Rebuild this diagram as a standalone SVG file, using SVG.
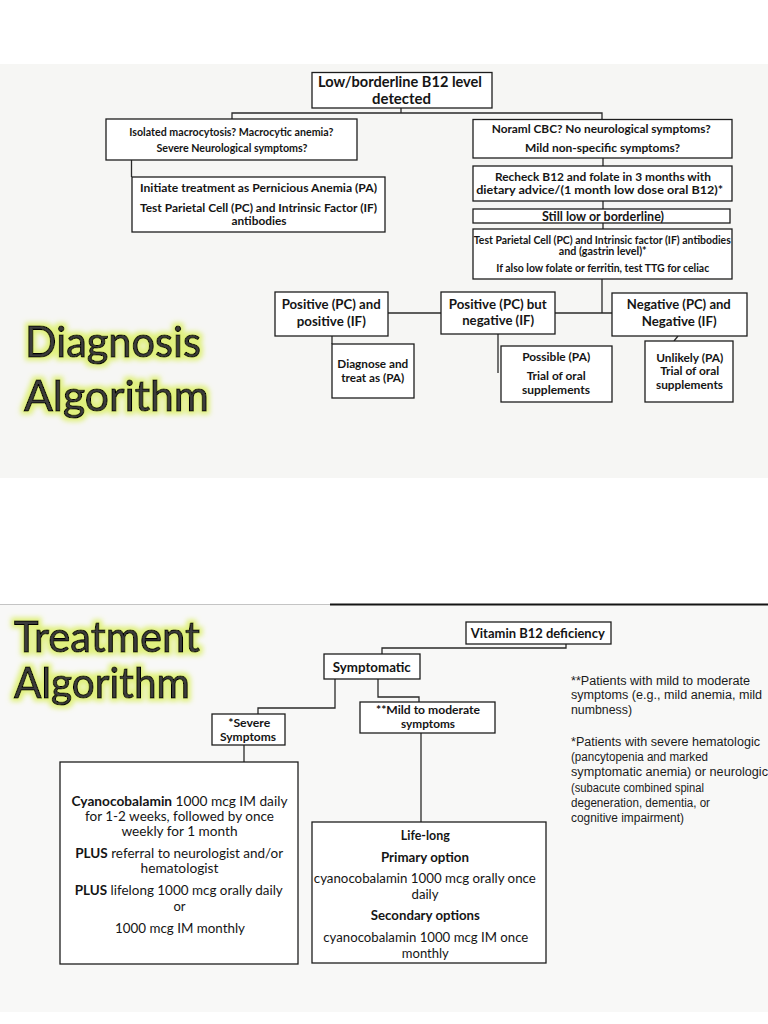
<svg xmlns="http://www.w3.org/2000/svg" width="768" height="1024" viewBox="0 0 768 1024">
<defs>
<style>
.box{fill:#ffffff;stroke:#1e1e1e;stroke-width:1.3}
.con{fill:none;stroke:#2a2a2a;stroke-width:1.3}
.b{font-family:Lato,"Liberation Sans",sans-serif;font-weight:bold;fill:#151515;text-anchor:middle}
.r{font-family:Lato,"Liberation Sans",sans-serif;font-weight:normal;fill:#151515;text-anchor:middle}
.n{font-family:"Liberation Sans",Arial,sans-serif;fill:#1a1a1a;font-size:12.5px}
.ttl{font-family:Lato,"Liberation Sans",sans-serif;font-size:42px;fill:#3a3a3a;stroke:#050505;stroke-width:1.1;filter:url(#glow)}
</style>
<filter id="glow" x="-15%" y="-40%" width="130%" height="180%">
<feMorphology in="SourceAlpha" operator="dilate" radius="3" result="d"/>
<feGaussianBlur in="d" stdDeviation="2.8" result="bl"/>
<feFlood flood-color="#dcef68" flood-opacity="0.85"/>
<feComposite in2="bl" operator="in" result="g"/>
<feMerge><feMergeNode in="g"/><feMergeNode in="SourceGraphic"/></feMerge>
</filter>
</defs>
<rect x="0" y="0" width="768" height="1024" fill="#ffffff"/>
<rect x="0" y="64" width="768" height="414" fill="#f6f6f4"/>
<rect x="0" y="604" width="768" height="408" fill="#f8f8f7"/>
<line x1="0" y1="604.5" x2="330" y2="604.5" stroke="#c4c4c4" stroke-width="1"/>
<line x1="330" y1="604.5" x2="768" y2="604.5" stroke="#151515" stroke-width="2"/>

<g id="title-diagnosis">
<text class="ttl" x="25" y="357" textLength="176" lengthAdjust="spacingAndGlyphs">Diagnosis</text>
<text class="ttl" x="24" y="411" textLength="185" lengthAdjust="spacingAndGlyphs">Algorithm</text>
</g>

<g id="title-treatment">
<text class="ttl" x="14" y="652" style="font-size:42px" textLength="186" lengthAdjust="spacingAndGlyphs">Treatment</text>
<text class="ttl" x="14" y="698" style="font-size:42px" textLength="176" lengthAdjust="spacingAndGlyphs">Algorithm</text>
</g>

<g id="connectors">
<polyline class="con" points="401,108 401,113"/>
<polyline class="con" points="232,119 232,113 602,113 602,120"/>
<polyline class="con" points="131.5,160 131.5,177"/>
<polyline class="con" points="603,158 603,166"/>
<polyline class="con" points="603,201 603,209"/>
<polyline class="con" points="603,223 603,229"/>
<polyline class="con" points="602,279 602,313"/>
<polyline class="con" points="555,313 612,313"/>
<polyline class="con" points="388,313 441,313"/>
<polyline class="con" points="332,336 332,344"/>
<polyline class="con" points="498,334 498,373"/>
<polyline class="con" points="678,336 674,341"/>
<polyline class="con" points="566,644 566,648 382,648 382,654"/>
<polyline class="con" points="335,679 335,708 258,708 258,714"/>
<polyline class="con" points="378,679 378,697 419,697 419,702"/>
<polyline class="con" points="244,745 244,762"/>
<polyline class="con" points="421,733 421,822"/>
</g>

<g id="n-low">
<rect class="box" x="312" y="72.5" width="180" height="35.5"/>
<text class="b" x="400" y="87" font-size="14.5" textLength="164" lengthAdjust="spacingAndGlyphs">Low/borderline B12 level</text>
<text class="b" x="401.5" y="104" font-size="14.5" textLength="59" lengthAdjust="spacingAndGlyphs">detected</text>
</g>

<g id="n-isolated">
<rect class="box" x="106" y="119" width="251" height="41"/>
<text class="b" x="231.3" y="136.3" font-size="10.5" textLength="204" lengthAdjust="spacingAndGlyphs">Isolated macrocytosis? Macrocytic anemia?</text>
<text class="b" x="232" y="151.6" font-size="10.5" textLength="151" lengthAdjust="spacingAndGlyphs">Severe Neurological symptoms?</text>
</g>

<g id="n-initiate">
<rect class="box" x="132" y="177" width="253" height="55"/>
<text class="b" x="258.5" y="192" font-size="12" textLength="237" lengthAdjust="spacingAndGlyphs">Initiate treatment as Pernicious Anemia (PA)</text>
<text class="b" x="258.5" y="212" font-size="12" textLength="237" lengthAdjust="spacingAndGlyphs">Test Parietal Cell (PC) and Intrinsic Factor (IF)</text>
<text class="b" x="259" y="225" font-size="12" textLength="55" lengthAdjust="spacingAndGlyphs">antibodies</text>
</g>

<g id="n-normal">
<rect class="box" x="473" y="119.5" width="259" height="38.5"/>
<text class="b" x="601.2" y="133" font-size="12" textLength="219" lengthAdjust="spacingAndGlyphs">Noraml CBC? No neurological  symptoms?</text>
<text class="b" x="602.5" y="152" font-size="12" textLength="155" lengthAdjust="spacingAndGlyphs">Mild non-specific symptoms?</text>
</g>

<g id="n-recheck">
<rect class="box" x="473" y="166" width="259" height="35"/>
<text class="b" x="603" y="180.7" font-size="12" textLength="216" lengthAdjust="spacingAndGlyphs">Recheck B12 and folate in 3 months with</text>
<text class="b" x="599.7" y="194" font-size="12" textLength="247" lengthAdjust="spacingAndGlyphs">dietary advice/(1 month low dose oral B12)*</text>
</g>

<g id="n-still">
<rect class="box" x="473" y="209" width="257" height="14"/>
<text class="b" x="603" y="220.7" font-size="12.5" textLength="122" lengthAdjust="spacingAndGlyphs">Still low or borderline)</text>
</g>

<g id="n-test">
<rect class="box" x="473" y="229" width="259" height="50"/>
<text class="b" x="602.3" y="243.6" font-size="10.5" textLength="257" lengthAdjust="spacingAndGlyphs">Test Parietal Cell (PC) and Intrinsic factor (IF) antibodies</text>
<text class="b" x="602.7" y="255.3" font-size="10.5" textLength="88" lengthAdjust="spacingAndGlyphs">and (gastrin level)*</text>
<text class="b" x="602.7" y="271.9" font-size="10.5" textLength="213" lengthAdjust="spacingAndGlyphs">If also low folate or ferritin, test TTG for celiac</text>
</g>

<g id="n-pospos">
<rect class="box" x="275" y="292" width="113" height="44"/>
<text class="b" x="331.2" y="309.3" font-size="12.5" textLength="99" lengthAdjust="spacingAndGlyphs">Positive (PC) and</text>
<text class="b" x="331.3" y="326" font-size="12.5" textLength="69" lengthAdjust="spacingAndGlyphs">positive (IF)</text>
</g>

<g id="n-posneg">
<rect class="box" x="441" y="292" width="114" height="42"/>
<text class="b" x="497.8" y="308.6" font-size="12.5" textLength="98" lengthAdjust="spacingAndGlyphs">Positive (PC) but</text>
<text class="b" x="498.2" y="325.3" font-size="12.5" textLength="72" lengthAdjust="spacingAndGlyphs">negative (IF)</text>
</g>

<g id="n-negneg">
<rect class="box" x="612" y="293" width="135" height="43"/>
<text class="b" x="678.8" y="309.3" font-size="12.5" textLength="104" lengthAdjust="spacingAndGlyphs">Negative (PC) and</text>
<text class="b" x="679.2" y="326" font-size="12.5" textLength="75" lengthAdjust="spacingAndGlyphs">Negative (IF)</text>
</g>

<g id="n-diagnose">
<rect class="box" x="332" y="344" width="82" height="54"/>
<text class="b" x="372.8" y="368" font-size="11" textLength="71" lengthAdjust="spacingAndGlyphs">Diagnose and</text>
<text class="b" x="372.7" y="382" font-size="11" textLength="63" lengthAdjust="spacingAndGlyphs">treat as (PA)</text>
</g>

<g id="n-possible">
<rect class="box" x="501" y="346" width="111" height="56"/>
<text class="b" x="556.2" y="361" font-size="11" textLength="68" lengthAdjust="spacingAndGlyphs">Possible (PA)</text>
<text class="b" x="556.2" y="380.4" font-size="11" textLength="59" lengthAdjust="spacingAndGlyphs">Trial of oral</text>
<text class="b" x="556" y="393.7" font-size="11" textLength="68" lengthAdjust="spacingAndGlyphs">supplements</text>
</g>

<g id="n-unlikely">
<rect class="box" x="645" y="341" width="88" height="61"/>
<text class="b" x="689.7" y="362" font-size="11" textLength="67" lengthAdjust="spacingAndGlyphs">Unlikely (PA)</text>
<text class="b" x="689.7" y="375.4" font-size="11" textLength="59" lengthAdjust="spacingAndGlyphs">Trial of oral</text>
<text class="b" x="689.5" y="389.4" font-size="11" textLength="67" lengthAdjust="spacingAndGlyphs">supplements</text>
</g>

<g id="n-vitamin">
<rect class="box" x="466" y="622" width="145" height="22"/>
<text class="b" x="537.8" y="637.5" font-size="12.5" textLength="134" lengthAdjust="spacingAndGlyphs">Vitamin B12 deficiency</text>
</g>

<g id="n-symptomatic">
<rect class="box" x="324" y="654" width="96" height="25"/>
<text class="b" x="371.8" y="671.5" font-size="12.5" textLength="78" lengthAdjust="spacingAndGlyphs">Symptomatic</text>
</g>

<g id="n-severe">
<rect class="box" x="212" y="714" width="73" height="31"/>
<text class="b" x="249.2" y="727.2" font-size="11.5" textLength="42" lengthAdjust="spacingAndGlyphs">*Severe</text>
<text class="b" x="248" y="740.6" font-size="11.5" textLength="56" lengthAdjust="spacingAndGlyphs">Symptoms</text>
</g>

<g id="n-mild">
<rect class="box" x="360" y="702" width="135" height="31"/>
<text class="b" x="428" y="713.8" font-size="11.5" textLength="104" lengthAdjust="spacingAndGlyphs">**Mild to moderate</text>
<text class="b" x="428" y="728.2" font-size="11.5" textLength="54" lengthAdjust="spacingAndGlyphs">symptoms</text>
</g>

<g id="n-severe-tx">
<rect class="box" x="60" y="762" width="238" height="202"/>
<text class="r" x="179.5" y="806" font-size="13" textLength="216" lengthAdjust="spacingAndGlyphs"><tspan font-weight="bold">Cyanocobalamin</tspan> 1000 mcg  IM daily</text>
<text class="r" x="179.5" y="821" font-size="13" textLength="189" lengthAdjust="spacingAndGlyphs">for 1-2 weeks, followed by once</text>
<text class="r" x="179.5" y="836" font-size="13" textLength="116" lengthAdjust="spacingAndGlyphs">weekly for 1 month</text>
<text class="r" x="179.2" y="858.3" font-size="13" textLength="208" lengthAdjust="spacingAndGlyphs"><tspan font-weight="bold">PLUS</tspan> referral to neurologist and/or</text>
<text class="r" x="179.5" y="873.3" font-size="13" textLength="78" lengthAdjust="spacingAndGlyphs">hematologist</text>
<text class="r" x="178.8" y="895.3" font-size="13" textLength="208" lengthAdjust="spacingAndGlyphs"><tspan font-weight="bold">PLUS</tspan> lifelong 1000 mcg orally daily</text>
<text class="r" x="179.5" y="911" font-size="13">or</text>
<text class="r" x="180" y="933.3" font-size="13" textLength="130" lengthAdjust="spacingAndGlyphs">1000 mcg IM monthly</text>
</g>

<g id="n-mild-tx">
<rect class="box" x="312" y="822" width="234" height="141"/>
<text class="b" x="425.3" y="840.2" font-size="12.5" textLength="49" lengthAdjust="spacingAndGlyphs">Life-long</text>
<text class="b" x="425" y="861.5" font-size="12.5" textLength="88" lengthAdjust="spacingAndGlyphs">Primary option</text>
<text class="r" x="424.8" y="883.2" font-size="12.5" textLength="222" lengthAdjust="spacingAndGlyphs">cyanocobalamin 1000 mcg orally once</text>
<text class="r" x="425" y="898.5" font-size="12.5" textLength="27" lengthAdjust="spacingAndGlyphs">daily</text>
<text class="b" x="425.3" y="920.2" font-size="12.5" textLength="109" lengthAdjust="spacingAndGlyphs">Secondary options</text>
<text class="r" x="425.8" y="941.9" font-size="12.5" textLength="205" lengthAdjust="spacingAndGlyphs">cyanocobalamin 1000 mcg IM once</text>
<text class="r" x="425.3" y="957.5" font-size="12.5" textLength="47" lengthAdjust="spacingAndGlyphs">monthly</text>
</g>

<g id="notes">
<text class="n" x="571" y="684.5" textLength="179" lengthAdjust="spacingAndGlyphs">**Patients with mild to moderate</text>
<text class="n" x="571" y="699" textLength="191" lengthAdjust="spacingAndGlyphs">symptoms (e.g., mild anemia, mild</text>
<text class="n" x="571" y="714" textLength="61" lengthAdjust="spacingAndGlyphs">numbness)</text>
<text class="n" x="571" y="745.5" textLength="189" lengthAdjust="spacingAndGlyphs">*Patients with severe hematologic</text>
<text class="n" x="571" y="761" textLength="137" lengthAdjust="spacingAndGlyphs">(pancytopenia and marked</text>
<text class="n" x="571" y="776" textLength="197" lengthAdjust="spacingAndGlyphs">symptomatic anemia) or neurologic</text>
<text class="n" x="571" y="791.5" textLength="133" lengthAdjust="spacingAndGlyphs">(subacute combined spinal</text>
<text class="n" x="571" y="806.8" textLength="139" lengthAdjust="spacingAndGlyphs">degeneration, dementia, or</text>
<text class="n" x="571" y="822.2" textLength="113" lengthAdjust="spacingAndGlyphs">cognitive impairment)</text>
</g>
</svg>
